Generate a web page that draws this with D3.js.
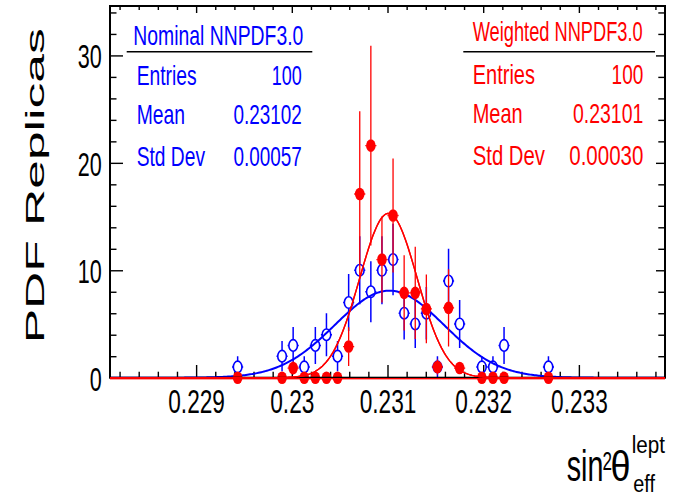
<!DOCTYPE html>
<html>
<head>
<meta charset="utf-8">
<script src="https://cdn.jsdelivr.net/npm/d3@7"></script>
<style>
html,body{margin:0;padding:0;background:#fff;}
svg{display:block;}
text{font-family:"Liberation Sans",Arial,Helvetica,sans-serif;}
</style>
</head>
<body>
<div id="chart"></div>
<script>
// ---------------- data ----------------
const xDomain = [0.2281, 0.2339];
const yDomain = [0, 34.6];
const binWidth = 0.000116;

const binCenters = [0.229434,0.229898,0.230014,0.23013,0.230246,0.230362,0.230478,0.230594,0.23071,0.230826,0.230942,0.231058,0.231174,0.23129,0.231406,0.231522,0.231638,0.231754,0.231986,0.232102,0.232218,0.232682];
const nominalCounts = [1,2,3,1,3,4,2,7,10,8,10,11,6,5,6,1,9,5,1,1,3,1];
const nominalErrors = [1,1.41,1.73,1,1.73,2,1.41,2.65,3.16,2.83,3.16,3.32,2.45,2.24,2.45,1,3,2.24,1,1,1.73,1];
const weightedValues = [0,0,0.9,0,0,0,0,2.9,17.1,21.6,11.0,15.1,7.9,7.9,6.4,1.0,6.5,0.9,0,0,0,0];
const weightedErrors = [0,0,0.6,0,0,0,0,1.8,7.7,9.3,4.0,5.3,3.5,4.3,3.2,0.7,3.6,0.5,0,0,0,0];

// Gaussian fit parameters: [constant, mean, sigma]
const nominalFit = [8.1, 0.23102, 0.00057];
const weightedFit = [15.3, 0.23101, 0.00030];

const xMajorTicks = [0.229, 0.230, 0.231, 0.232, 0.233];
const xTickLabels = ["0.229", "0.23", "0.231", "0.232", "0.233"];
const xMinorTicks = [0.2282,0.2284,0.2286,0.2288,0.2292,0.2294,0.2296,0.2298,0.2302,0.2304,0.2306,0.2308,0.2312,0.2314,0.2316,0.2318,0.2322,0.2324,0.2326,0.2328,0.2332,0.2334,0.2336,0.2338];
const yMajorTicks = [0, 10, 20, 30];
const yTickLabels = ["0", "10", "20", "30"];
const yMinorTicks = [2,4,6,8,12,14,16,18,22,24,26,28,32,34];

const statLabels = ["Entries", "Mean", "Std Dev"];
const nominalTitle = "Nominal NNPDF3.0";
const nominalStats = ["100", "0.23102", "0.00057"];
const weightedTitle = "Weighted NNPDF3.0";
const weightedStats = ["100", "0.23101", "0.00030"];
const yTitle = "PDF Replicas";

// ---------------- layout ----------------
const W = 686, H = 497;
const L = 110, R = 665, T = 6, B = 377.7;
const BLUE = "#0000ff", RED = "#ff0000";

const svg = d3.select("#chart").append("svg").attr("width", W).attr("height", H);
const x = d3.scaleLinear().domain(xDomain).range([L, R]);
const y = d3.scaleLinear().domain(yDomain).range([B, T]);

function label(parent, s, px, py, size, len, anchor, fill) {
  return parent.append("text")
    .attr("x", px).attr("y", py)
    .attr("font-size", size)
    .attr("text-anchor", anchor)
    .attr("fill", fill)
    .attr("textLength", len)
    .attr("lengthAdjust", "spacingAndGlyphs")
    .text(s);
}
function numWidth(s, dw, pw) {
  let w = 0;
  for (const c of s) w += (c === ".") ? pw : dw;
  return w;
}

svg.append("defs").append("clipPath").attr("id", "frameclip")
  .append("rect").attr("x", L).attr("y", T - 2).attr("width", R - L).attr("height", B - T + 4);

// ---------------- axes ----------------
function styleAxis(g) {
  g.select(".domain").remove();
  g.selectAll(".tick line").attr("stroke", "#000").attr("stroke-width", 1.4);
}
// bottom
const gxB = svg.append("g").attr("transform", `translate(0,${B})`)
  .call(d3.axisBottom(x).tickValues(xMajorTicks).tickSize(-12.7).tickPadding(0)
    .tickFormat((d, i) => xTickLabels[i]));
styleAxis(gxB);
gxB.selectAll(".tick text")
  .attr("y", 35.6).attr("dy", null)
  .attr("font-size", 33).attr("fill", "#000")
  .attr("textLength", (d, i) => numWidth(xTickLabels[i], 12.6, 6.3))
  .attr("lengthAdjust", "spacingAndGlyphs");
const gxBm = svg.append("g").attr("transform", `translate(0,${B})`)
  .call(d3.axisBottom(x).tickValues(xMinorTicks).tickSize(-6).tickFormat(""));
styleAxis(gxBm);
// top
const gxT = svg.append("g").attr("transform", `translate(0,${T})`)
  .call(d3.axisTop(x).tickValues(xMajorTicks).tickSize(-7).tickFormat(""));
styleAxis(gxT);
const gxTm = svg.append("g").attr("transform", `translate(0,${T})`)
  .call(d3.axisTop(x).tickValues(xMinorTicks).tickSize(-4).tickFormat(""));
styleAxis(gxTm);
// left
const gyL = svg.append("g").attr("transform", `translate(${L},0)`)
  .call(d3.axisLeft(y).tickValues(yMajorTicks).tickSize(-13).tickPadding(8.3)
    .tickFormat((d, i) => yTickLabels[i]));
styleAxis(gyL);
gyL.selectAll(".tick text")
  .attr("dy", "12.5px")
  .attr("font-size", 33).attr("fill", "#000")
  .attr("textLength", (d, i) => numWidth(yTickLabels[i], 12, 6))
  .attr("lengthAdjust", "spacingAndGlyphs");
const gyLm = svg.append("g").attr("transform", `translate(${L},0)`)
  .call(d3.axisLeft(y).tickValues(yMinorTicks).tickSize(-6.5).tickFormat(""));
styleAxis(gyLm);
// right
const gyR = svg.append("g").attr("transform", `translate(${R},0)`)
  .call(d3.axisRight(y).tickValues(yMajorTicks).tickSize(-9).tickFormat(""));
styleAxis(gyR);
const gyRm = svg.append("g").attr("transform", `translate(${R},0)`)
  .call(d3.axisRight(y).tickValues(yMinorTicks).tickSize(-6.7).tickFormat(""));
styleAxis(gyRm);

// ---------------- series ----------------
const RX = 4.3, RY = 5.8;
function drawPoints(vals, errs, color, filled, sw) {
  const g = svg.append("g").attr("clip-path", "url(#frameclip)");
  binCenters.forEach((xc, i) => {
    const cx = x(xc), cy = y(vals[i]);
    const hw = x(xc + binWidth / 2) - cx;
    const e = errs[i];
    g.append("line").attr("x1", cx - hw).attr("x2", cx - RX).attr("y1", cy).attr("y2", cy)
      .attr("stroke", color).attr("stroke-width", sw);
    g.append("line").attr("x1", cx + RX).attr("x2", cx + hw).attr("y1", cy).attr("y2", cy)
      .attr("stroke", color).attr("stroke-width", sw);
    if (e > 0) {
      const top = y(vals[i] + e), bot = Math.min(B, y(vals[i] - e));
      if (top < cy - RY) g.append("line").attr("x1", cx).attr("x2", cx).attr("y1", top).attr("y2", cy - RY)
        .attr("stroke", color).attr("stroke-width", sw);
      if (bot > cy + RY) g.append("line").attr("x1", cx).attr("x2", cx).attr("y1", cy + RY).attr("y2", bot)
        .attr("stroke", color).attr("stroke-width", sw);
    }
  });
  svg.append("g").selectAll("ellipse").data(binCenters).join("ellipse")
    .attr("cx", d => x(d)).attr("cy", (d, i) => y(vals[i]))
    .attr("rx", filled ? RX + 0.5 : RX).attr("ry", filled ? RY + 0.5 : RY)
    .attr("fill", filled ? color : "none")
    .attr("stroke", filled ? "none" : color)
    .attr("stroke-width", 1.6);
}
function drawFit(p, color, sw) {
  const xs = d3.range(0, 401).map(k => xDomain[0] + (xDomain[1] - xDomain[0]) * k / 400);
  const line = d3.line().x(d => x(d)).y(d => y(p[0] * Math.exp(-0.5 * ((d - p[1]) / p[2]) ** 2)));
  return svg.append("path").datum(xs).attr("d", line).attr("fill", "none")
    .attr("stroke", color).attr("stroke-width", sw).attr("clip-path", "url(#frameclip)");
}

drawPoints(nominalCounts, nominalErrors, BLUE, false, 1.5);
drawFit(nominalFit, BLUE, 2);
drawPoints(weightedValues, weightedErrors, RED, true, 1.3);

// frame
svg.append("rect").attr("x", L).attr("y", T).attr("width", R - L).attr("height", B - T)
  .attr("fill", "none").attr("stroke", "#000").attr("stroke-width", 2);
// red fit curve, drawn over the bottom axis line
drawFit(weightedFit, RED, 1.4);
// red baseline where fit ~ 0, slightly below the axis as in the original
svg.append("g").attr("clip-path", "url(#frameclip)").append("line")
  .attr("x1", x(xDomain[0])).attr("x2", x(xDomain[1]))
  .attr("y1", y(0) + 1).attr("y2", y(0) + 1)
  .attr("stroke", RED).attr("stroke-width", 1.4);
drawFit(weightedFit, RED, 1.4);

// ---------------- stat boxes ----------------
const sb = svg.append("g");
label(sb, nominalTitle, 133.3, 45, 28, 170, "start", BLUE);
sb.append("line").attr("x1", 126.7).attr("x2", 312.3).attr("y1", 51.7).attr("y2", 51.7)
  .attr("stroke", "#000").attr("stroke-width", 1.6);
const rowY = [85, 123.5, 165.5];
const nomLabelW = [60, 48.3, 68.3], nomValW = [30, 68.3, 68.3];
statLabels.forEach((s, i) => {
  label(sb, s, 136.7, rowY[i], 28, nomLabelW[i], "start", BLUE);
  label(sb, nominalStats[i], 301.7, rowY[i], 28, nomValW[i], "end", BLUE);
});
label(sb, weightedTitle, 472.7, 40.7, 28, 170, "start", RED);
sb.append("line").attr("x1", 463.3).attr("x2", 655).attr("y1", 51.7).attr("y2", 51.7)
  .attr("stroke", "#000").attr("stroke-width", 1.6);
const rowY2 = [84, 123.3, 165];
const wLabelW = [62.3, 50, 72.3], wValW = [31.7, 70.3, 74];
statLabels.forEach((s, i) => {
  label(sb, s, 472.7, rowY2[i], 28, wLabelW[i], "start", RED);
  label(sb, weightedStats[i], 643.3, rowY2[i], 28, wValW[i], "end", RED);
});

// ---------------- axis titles ----------------
svg.append("text")
  .attr("transform", "translate(43.5,185.8) rotate(-90)")
  .attr("text-anchor", "middle").attr("font-size", 25.6).attr("fill", "#000")
  .attr("textLength", 315).attr("lengthAdjust", "spacingAndGlyphs")
  .text(yTitle);

const xt = svg.append("g");
label(xt, "sin", 566.7, 480.5, 44, 36.7, "start", "#000");
label(xt, "2", 602.5, 470, 26, 9.5, "start", "#000");
label(xt, "θ", 610.5, 481, 42, 20, "start", "#000");
label(xt, "lept", 631.7, 452.5, 23, 33.3, "start", "#000");
label(xt, "eff", 633.3, 492, 23, 21.7, "start", "#000");
</script>
</body>
</html>
